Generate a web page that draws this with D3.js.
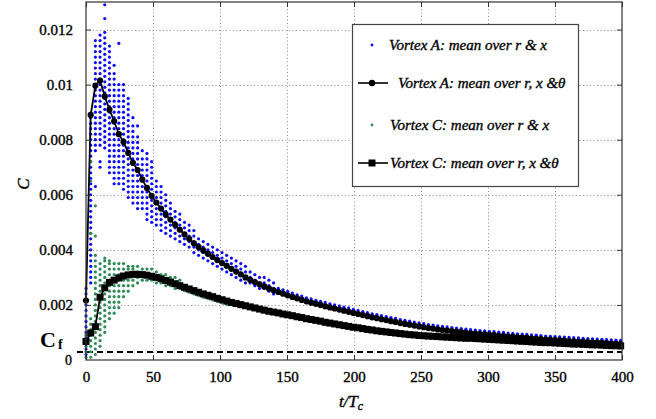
<!DOCTYPE html>
<html>
<head>
<meta charset="utf-8">
<script src="https://cdn.jsdelivr.net/npm/d3@7"></script>
<style>
  html, body { margin: 0; padding: 0; background: #fff; }
  svg { display: block; }
</style>
</head>
<body>
<svg id="chart" width="656" height="419"></svg>
<script>
// ---------------- DATA ----------------
const times = [0,3.5,7,10.5,14,17.5,21,24.5,28,31.5,35,38.5,42,45.5,49,52.5,56,59.5,63,66.5,70,73.5,77,80.5,84,87.5,91,94.5,98,101.5,105,108.5,112,115.5,119,122.5,126,129.5,133,136.5,140,143.5,147,150.5,154,157.5,161,164.5,168,171.5,175,178.5,182,185.5,189,192.5,196,199.5,203,206.5,210,213.5,217,220.5,224,227.5,231,234.5,238,241.5,245,248.5,252,255.5,259,262.5,266,269.5,273,276.5,280,283.5,287,290.5,294,297.5,301,304.5,308,311.5,315,318.5,322,325.5,329,332.5,336,339.5,343,346.5,350,353.5,357,360.5,364,367.5,371,374.5,378,381.5,385,388.5,392,395.5,399];

// Vortex A: mean over r, x & theta
const meanA = [0.00216,0.0089,0.00996,0.01015,0.00957,0.00909,0.00867,0.0082,0.00792,0.00752,
  0.00716,0.0069,0.00655,0.00625,0.00596,0.00572,0.0055,0.00528,0.0051,0.00491,
  0.00473,0.00456,0.0044,0.00424,0.0041,0.00398,0.00386,0.00374,0.00363,0.00352,
  0.00342,0.00331,0.00321,0.00311,0.003,0.00291,0.00283,0.00275,0.00267,0.0026,
  0.00253,0.00247,0.00241,0.00235,0.00229,0.00224,0.00218,0.00213,0.00208,0.00204,
  0.002,0.00195,0.00191,0.00187,0.00183,0.00179,0.00175,0.00171,0.00167,0.00163,
  0.00159,0.00155,0.00152,0.00148,0.00145,0.00141,0.00138,0.00134,0.00131,0.00128,
  0.00125,0.00122,0.00119,0.00116,0.00114,0.00111,0.00109,0.00107,0.00105,0.00103,
  0.00101,0.00099,0.00097,0.00096,0.00094,0.00093,0.00091,0.0009,0.00088,0.00087,
  0.00085,0.00084,0.00082,0.00081,0.0008,0.00078,0.00077,0.00076,0.00074,0.00073,
  0.00072,0.00071,0.0007,0.00069,0.00068,0.00067,0.00066,0.00065,0.00064,0.00063,
  0.00062,0.00061,0.0006,0.00059,0.00058];

// Vortex C: mean over r, x & theta
const meanC = [0.00067,0.00098,0.00121,0.00228,0.00262,0.00282,0.0029,0.00298,0.00305,0.00309,
  0.00311,0.00311,0.0031,0.00308,0.00304,0.003,0.00295,0.00289,0.00283,0.00277,
  0.0027,0.00264,0.00258,0.00252,0.00246,0.0024,0.00235,0.0023,0.00224,0.00219,
  0.00214,0.00209,0.00205,0.00201,0.00197,0.00193,0.00189,0.00185,0.00181,0.00177,
  0.00174,0.00171,0.00167,0.00164,0.00161,0.00157,0.00154,0.0015,0.00147,0.00144,
  0.00141,0.00137,0.00134,0.00131,0.00128,0.00125,0.00122,0.00119,0.00117,0.00114,
  0.00111,0.00109,0.00106,0.00104,0.00102,0.001,0.00098,0.00096,0.00094,0.00092,
  0.00091,0.00089,0.00088,0.00087,0.00086,0.00085,0.00084,0.00083,0.00082,0.00081,
  0.0008,0.00079,0.00079,0.00078,0.00077,0.00076,0.00075,0.00074,0.00073,0.00072,
  0.00071,0.0007,0.00069,0.00068,0.00067,0.00066,0.00065,0.00064,0.00063,0.00063,
  0.00062,0.00061,0.0006,0.00059,0.00058,0.00058,0.00057,0.00056,0.00055,0.00055,
  0.00054,0.00053,0.00052,0.00052,0.00051];

// Vortex A: mean over r & x (one list of values per time sample)
const scatterA = [
  [0.0002,0.0004,0.0006,0.0008,0.001,0.0012,0.0014,0.0016,0.0018,0.002,0.0022,0.0024,0.0026],
  [0.0028,0.003,0.0032,0.0034,0.0036,0.0038,0.004,0.0042,0.0044,0.0046,0.0048,0.005,0.0052,0.0054,0.0056,0.0058,0.006,0.0062,0.0064,0.0066,0.0068,0.007,0.0072,0.0074,0.0076,0.0078,0.008,0.0082,0.0084,0.0086,0.0088],
  [0.0063,0.0076,0.0078,0.008,0.0082,0.0084,0.0086,0.0088,0.009,0.0092,0.0094,0.0096,0.0098,0.01,0.0102,0.0104,0.0106,0.0108,0.011,0.0112,0.0114,0.0116],
  [0.007,0.0072,0.0078,0.008,0.0082,0.0084,0.0086,0.0088,0.009,0.0092,0.0094,0.0096,0.0098,0.01,0.0102,0.0104,0.0106,0.0108,0.011,0.0112,0.0114,0.0116,0.0118],
  [0.0077,0.0079,0.0081,0.0083,0.0085,0.0087,0.0089,0.0091,0.0093,0.0095,0.0097,0.0099,0.0101,0.0103,0.0105,0.0107,0.0109,0.0111,0.0113,0.0115,0.0117,0.0119,0.0124,0.0129],
  [0.0068,0.007,0.0072,0.0074,0.0076,0.0078,0.008,0.0082,0.0084,0.0086,0.0088,0.009,0.0092,0.0094,0.0096,0.0098,0.01,0.0102,0.0104,0.0106,0.0108,0.011,0.0112,0.0114],
  [0.0064,0.0066,0.0068,0.007,0.0072,0.0074,0.0076,0.0078,0.008,0.0082,0.0084,0.0086,0.0088,0.009,0.0092,0.0094,0.0096,0.0098,0.01,0.0102,0.0104,0.0107],
  [0.0064,0.0066,0.0068,0.007,0.0072,0.0074,0.0076,0.0078,0.008,0.0082,0.0084,0.0086,0.0088,0.009,0.0092,0.0094,0.0096,0.0098,0.01,0.0115],
  [0.0062,0.0064,0.0066,0.0068,0.007,0.0072,0.0074,0.0076,0.0078,0.008,0.0082,0.0084,0.0086,0.0088,0.009,0.0092,0.0094,0.0096,0.0098,0.01],
  [0.0059,0.0061,0.0063,0.0065,0.0067,0.0069,0.0071,0.0073,0.0075,0.0077,0.0079,0.0081,0.0083,0.0085,0.0087,0.0089,0.0091,0.0093,0.0095],
  [0.0057,0.0059,0.0061,0.0063,0.0065,0.0067,0.0069,0.0071,0.0073,0.0075,0.0077,0.0079,0.0081,0.0083,0.0085,0.0088],
  [0.0055,0.0057,0.0059,0.0061,0.0063,0.0065,0.0067,0.0069,0.0071,0.0073,0.0075,0.0077,0.0079,0.0081,0.0085],
  [0.0055,0.0057,0.0059,0.0061,0.0063,0.0065,0.0067,0.0069,0.0071,0.0073,0.0076],
  [0.0051,0.0053,0.0055,0.0057,0.0059,0.0061,0.0063,0.0065,0.0067,0.0069,0.0071,0.0073,0.0075],
  [0.005,0.0052,0.0054,0.0056,0.0058,0.006,0.0062,0.0064,0.0066,0.0068,0.007,0.0072],
  [0.0049,0.0051,0.0053,0.0055,0.0057,0.0059,0.0061,0.0063,0.0065],
  [0.0047,0.0049,0.0051,0.0053,0.0055,0.0057,0.0059,0.0061,0.0063],
  [0.0046,0.0048,0.005,0.0052,0.0054,0.0056,0.0058,0.006],
  [0.0045,0.0047,0.0049,0.0051,0.0053,0.0055,0.0057],
  [0.0044,0.0046,0.0048,0.005,0.0052,0.0054],
  [0.0043,0.0045,0.0047,0.0049,0.0051,0.0053],
  [0.0042,0.0044,0.0046,0.0048,0.005],
  [0.0041,0.0043,0.0045,0.0047,0.0049],
  [0.0039,0.0041,0.0043,0.0045,0.0047],
  [0.0038,0.004,0.0042,0.0044],
  [0.0037,0.0039,0.0041,0.0043],
  [0.0036,0.0038,0.004,0.0042],
  [0.0035,0.0037,0.0039,0.0041],
  [0.0034,0.0036,0.0038,0.004],
  [0.0033,0.0035,0.0037,0.0039],
  [0.0032,0.0034,0.0036,0.0038],
  [0.0031,0.0033,0.0035,0.0037],
  [0.003,0.0032,0.0034,0.0036],
  [0.0029,0.0031,0.0033,0.0035],
  [0.0028,0.003,0.0032,0.0034],
  [0.0028,0.003,0.0032],
  [0.0027,0.0029,0.0031],
  [0.0026,0.0028,0.003],
  [0.0026,0.0028,0.003],
  [0.0025,0.0027,0.0029],
  [0.0024,0.0026,0.0028],
  [0.0026],[0.00255],[0.00249],[0.00243],[0.00237],[0.00232],[0.00226],[0.00222],[0.00217],
  [0.00213],[0.00209],[0.00204],[0.002],[0.00197],[0.00192],[0.00189],[0.00184],[0.0018],[0.00176],
  [0.00172],[0.00168],[0.00165],[0.00161],[0.00158],[0.00154],[0.00151],[0.00147],[0.00144],[0.00141],
  [0.00138],[0.00135],[0.00132],[0.00129],[0.00127],[0.00124],[0.00122],[0.0012],[0.00118],[0.00116],
  [0.00114],[0.00112],[0.0011],[0.00109],[0.00107],[0.00106],[0.00104],[0.00103],[0.00101],[0.001],
  [0.00098],[0.00097],[0.00095],[0.00094],[0.00093],[0.00091],[0.0009],[0.00089],[0.00087],[0.00086],
  [0.00085],[0.00084],[0.00083],[0.00082],[0.00081],[0.0008],[0.00079],[0.00078],[0.00077],[0.00076],
  [0.00075],[0.00074],[0.00073],[0.00072],[0.00071]
];

// Vortex C: mean over r & x (one list of values per time sample)
const scatterC = [
  [0.0001,0.0003,0.0005,0.0007,0.0009],
  [0.0001,0.0003,0.0005,0.0007,0.0009,0.0011,0.0013,0.0015,0.0046,0.0065,0.0072],
  [0.0002,0.0004,0.0006,0.0008,0.001,0.0012,0.0014,0.0016,0.0018,0.002,0.0022,0.0024,0.0026,0.0028,0.003,0.0032,0.0034,0.0036,0.0038,0.0045,0.0056],
  [0.0005,0.0007,0.0009,0.0011,0.0013,0.0015,0.0017,0.0019,0.0021,0.0023,0.0025,0.0027,0.0029,0.0031,0.0033,0.0035],
  [0.001,0.0012,0.0014,0.0016,0.0018,0.002,0.0022,0.0024,0.0026,0.0028,0.003,0.0032,0.0034,0.0036,0.0037],
  [0.0015,0.0017,0.0019,0.0021,0.0023,0.0025,0.0027,0.0029,0.0031,0.0033,0.0035,0.0036],
  [0.0017,0.0019,0.0021,0.0023,0.0025,0.0027,0.0029,0.0031,0.0033,0.0035],
  [0.0019,0.0021,0.0023,0.0025,0.0027,0.0029,0.0031,0.0033,0.0035],
  [0.0023,0.0025,0.0027,0.0029,0.0031,0.0033,0.0035],
  [0.0025,0.0027,0.0029,0.0031,0.0033,0.0034],
  [0.0027,0.0029,0.0031,0.0033,0.0034],
  [0.0028,0.003,0.0032,0.0034],
  [0.0029,0.0031,0.0033],
  [0.0029,0.0031,0.0033],
  [0.0029,0.0031,0.0033],
  [0.0028,0.0032],
  [0.0028,0.0031],
  [0.0027,0.0031],
  [0.0027,0.003],
  [0.0026,0.003],
  [0.0026,0.0029],
  [0.00252],[0.00246],[0.0024],[0.00234],[0.00228],[0.00223],[0.00218],[0.00212],[0.00207],[0.00202]
];

const xTicks = [0,50,100,150,200,250,300,350,400];
const yTicks = [0.002,0.004,0.006,0.008,0.01,0.012];
const yTickLabels = ["0.002","0.004","0.006","0.008","0.01","0.012"];
const cf0 = 0.00029;
const legendLabels = [
  "Vortex A: mean over r & x",
  "Vortex A: mean over r, x &\u03B8",
  "Vortex C: mean over r & x",
  "Vortex C: mean over r, x &\u03B8"
];

// ---------------- DRAW ----------------
const svg = d3.select("#chart");
const W = 656, H = 419;
const L = 86, R = 622, T = 2, B = 360;
const serif = "'Liberation Serif','Times New Roman',Times,serif";
const ink = 0.35; // slight text weight to match the scanned look

svg.append("rect").attr("width", W).attr("height", H).attr("fill", "#fff");

const x = d3.scaleLinear().domain([0, 400]).range([L, R]);
const y = d3.scaleLinear().domain([0, 0.013]).range([B, T]);

// grid
const grid = svg.append("g").attr("stroke", "#8a8a8a").attr("stroke-width", 1).attr("stroke-dasharray", "1,2.5");
grid.selectAll("line.gx").data(xTicks.filter(t => t > 0 && t < 400)).join("line")
  .attr("x1", d => Math.round(x(d)) + 0.5).attr("x2", d => Math.round(x(d)) + 0.5)
  .attr("y1", T).attr("y2", B);
grid.selectAll("line.gy").data(yTicks).join("line")
  .attr("x1", L).attr("x2", R)
  .attr("y1", d => Math.round(y(d)) + 0.5).attr("y2", d => Math.round(y(d)) + 0.5);

// Cf0 dashed line
svg.append("line")
  .attr("x1", 77).attr("x2", R)
  .attr("y1", y(cf0)).attr("y2", y(cf0))
  .attr("stroke", "#000").attr("stroke-width", 2).attr("stroke-dasharray", "6,4");

// scatter
const ptsA = times.flatMap((t, i) => (scatterA[i] || []).map(v => ({t, v})));
const ptsC = times.flatMap((t, i) => (scatterC[i] || []).map(v => ({t, v})));

svg.append("g").selectAll("circle").data(ptsA).join("circle")
  .attr("cx", d => x(d.t)).attr("cy", d => y(d.v)).attr("r", 1.6)
  .attr("fill", "#0b0bff");
svg.append("g").selectAll("circle").data(ptsC).join("circle")
  .attr("cx", d => x(d.t)).attr("cy", d => y(d.v)).attr("r", 1.6)
  .attr("fill", "#2e8b57");

// mean lines
const dataA = times.map((t, i) => ({t, v: meanA[i]})).filter(d => d.v !== undefined);
const dataC = times.map((t, i) => ({t, v: meanC[i]})).filter(d => d.v !== undefined);
const line = d3.line().x(d => x(d.t)).y(d => y(d.v));

svg.append("path").datum(dataC).attr("d", line)
  .attr("fill", "none").attr("stroke", "#000").attr("stroke-width", 1.8);
svg.append("g").selectAll("rect").data(dataC).join("rect")
  .attr("x", d => x(d.t) - 3.5).attr("y", d => y(d.v) - 3.5)
  .attr("width", 7).attr("height", 7).attr("fill", "#000");

svg.append("path").datum(dataA).attr("d", line)
  .attr("fill", "none").attr("stroke", "#000").attr("stroke-width", 1.8);
svg.append("g").selectAll("circle").data(dataA).join("circle")
  .attr("cx", d => x(d.t)).attr("cy", d => y(d.v)).attr("r", 3.1)
  .attr("fill", "#000");

// axes (ticks inward on all sides)
const axCol = "#333";
const gB = svg.append("g").attr("transform", `translate(0,${B})`)
  .call(d3.axisBottom(x).tickValues(xTicks).tickSize(-5).tickSizeOuter(0).tickPadding(11).tickFormat(d3.format("d")));
const gL = svg.append("g").attr("transform", `translate(${L},0)`)
  .call(d3.axisLeft(y).tickValues(yTicks).tickSize(-5).tickSizeOuter(0).tickPadding(13).tickFormat((d, i) => yTickLabels[i]));
const gT = svg.append("g").attr("transform", `translate(0,${T})`)
  .call(d3.axisTop(x).tickValues(xTicks).tickSize(-5).tickSizeOuter(0).tickFormat(""));
const gR = svg.append("g").attr("transform", `translate(${R},0)`)
  .call(d3.axisRight(y).tickValues(yTicks).tickSize(-5).tickSizeOuter(0).tickFormat(""));
[gB, gL, gT, gR].forEach(g => {
  g.select(".domain").remove();
  g.selectAll(".tick line").attr("stroke", axCol).attr("stroke-width", 1);
  g.selectAll("text").attr("font-family", serif).attr("font-size", 15).attr("fill", "#000")
    .attr("stroke", "#000").attr("stroke-width", ink);
});

// frame
svg.append("rect").attr("x", L).attr("y", T).attr("width", R - L).attr("height", B - T)
  .attr("fill", "none").attr("stroke", axCol).attr("stroke-width", 1.2);

// axis labels
svg.append("text").attr("transform", "translate(29,184) rotate(-90)")
  .attr("text-anchor", "middle").attr("font-family", serif).attr("font-style", "italic")
  .attr("font-size", 17).attr("stroke", "#000").attr("stroke-width", ink).text("C");
const xl = svg.append("text").attr("x", 351).attr("y", 407).attr("text-anchor", "middle")
  .attr("font-family", serif).attr("font-style", "italic").attr("font-size", 17)
  .attr("stroke", "#000").attr("stroke-width", ink);
xl.append("tspan").text("t/T");
xl.append("tspan").attr("font-size", 12).attr("dy", 3).text("c");

// C_f0 annotation
const cf = svg.append("text").attr("x", 40).attr("y", 347).attr("font-family", serif);
cf.append("tspan").attr("font-weight", "bold").attr("font-size", 22).text("C");
cf.append("tspan").attr("font-weight", "bold").attr("font-size", 14).attr("dy", 2).attr("dx", 2).text("f");
svg.append("text").attr("x", 65).attr("y", 365).attr("font-family", serif).attr("font-size", 14)
  .attr("stroke", "#000").attr("stroke-width", ink).text("0");

// legend
const lg = svg.append("g");
lg.append("rect").attr("x", 352.5).attr("y", 24.5).attr("width", 226).attr("height", 162)
  .attr("fill", "#fff").attr("stroke", "#444").attr("stroke-width", 1.2);
const rows = [
  {y: 45, type: "dotA", tx: 389},
  {y: 83, type: "circle", tx: 398},
  {y: 125, type: "dotC", tx: 390},
  {y: 163, type: "square", tx: 390}
];
rows.forEach((r, i) => {
  if (r.type === "dotA") {
    lg.append("circle").attr("cx", 372).attr("cy", r.y).attr("r", 1.4).attr("fill", "#0b0bff");
  } else if (r.type === "dotC") {
    lg.append("circle").attr("cx", 372).attr("cy", r.y).attr("r", 1.4).attr("fill", "#2e8b57");
  } else {
    lg.append("line").attr("x1", 358).attr("x2", 388).attr("y1", r.y).attr("y2", r.y)
      .attr("stroke", "#000").attr("stroke-width", 1.6);
    if (r.type === "circle") {
      lg.append("circle").attr("cx", 372).attr("cy", r.y).attr("r", 3.2).attr("fill", "#000");
    } else {
      lg.append("rect").attr("x", 368.5).attr("y", r.y - 3.5).attr("width", 7).attr("height", 7).attr("fill", "#000");
    }
  }
  lg.append("text").attr("x", r.tx).attr("y", r.y + 5)
    .attr("font-family", serif).attr("font-style", "italic").attr("font-size", 15)
    .attr("fill", "#000").attr("stroke", "#000").attr("stroke-width", ink)
    .text(legendLabels[i]);
});
</script>
</body>
</html>
